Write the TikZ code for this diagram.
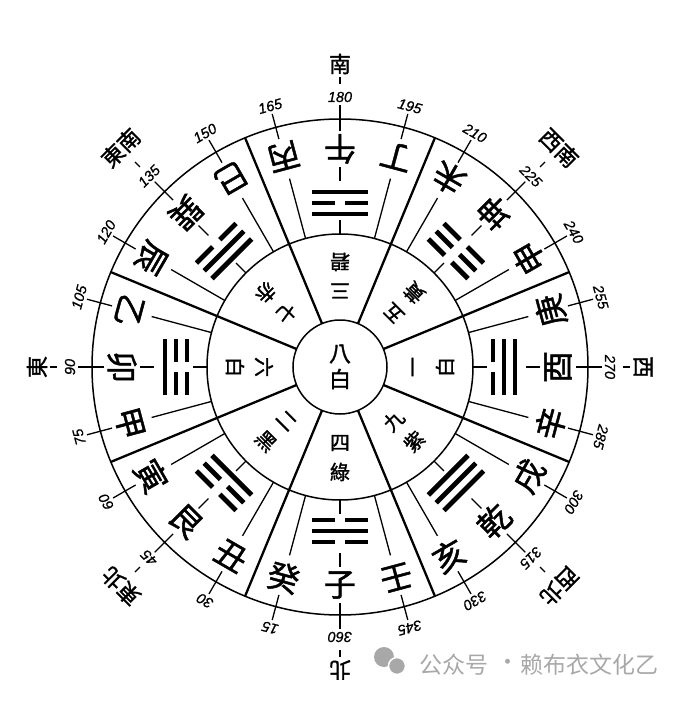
\documentclass[tikz,border=0pt]{standalone}
\usepackage{fontspec}
\newfontfamily\cjk{Noto Sans CJK TC}[FakeBold=1.4]
\newfontfamily\cjksc{Noto Sans CJK SC}
\newfontfamily\numfont{Liberation Sans}[FakeBold=0.8]
\definecolor{wmgray}{HTML}{A8A8A8}
\newcommand\yaoline[2]{%
  \ifnum#1=1 \draw[yao] (-28pt,#2) -- (28pt,#2);%
  \else \draw[yao] (-28pt,#2) -- (-5pt,#2) (5pt,#2) -- (28pt,#2);\fi}
\begin{document}
\begin{tikzpicture}[x=1pt,y=1pt,
  ring/.style={line width=1.5pt},
  sector/.style={line width=2.3pt},
  pointer/.style={line width=1.3pt},
  tickmark/.style={line width=1.3pt},
  mtn/.style={font=\cjk\fontsize{32}{32}\selectfont, inner sep=0pt},
  star/.style={font=\cjk\fontsize{20}{20}\selectfont, inner sep=0pt},
  deg/.style={font=\numfont\itshape\fontsize{14.5}{14.5}\selectfont, inner sep=0pt},
  dir/.style={font=\cjk\fontsize{22}{22}\selectfont, inner sep=0pt},
  yao/.style={line width=4.8pt},
  wm/.style={font=\cjksc\fontsize{23}{23}\selectfont, text=wmgray, inner sep=0pt}
]
\fill[white] (-340,-335) rectangle (350,367);
\useasboundingbox (-340,-335) rectangle (350,367);
\coordinate (C) at (0,0);
% circles
\draw[ring] (C) circle[radius=248pt];
\draw[ring] (C) circle[radius=133pt];
\draw[ring] (C) circle[radius=47pt];
% sector boundaries
\foreach \k in {0,...,7} {
  \pgfmathsetmacro\t{270-22.5-45*\k}
  \draw[sector] (\t:47pt) -- (\t:248pt);
}
% 24 mountains
\foreach \d/\c/\tg in {0/子/1,15/癸/0,30/丑/0,45/艮/1,60/寅/0,75/甲/0,90/卯/1,105/乙/0,
  120/辰/0,135/巽/1,150/巳/0,165/丙/0,180/午/1,195/丁/0,210/未/0,225/坤/1,240/申/0,
  255/庚/0,270/酉/1,285/辛/0,300/戌/0,315/乾/1,330/亥/0,345/壬/0} {
  \pgfmathsetmacro\t{270-\d}
  \pgfmathsetmacro\r{360-\d}
  \node[mtn, rotate=\r] (m\d) at (\t:218pt) {\c};
  \draw[tickmark] (\t:236pt) -- (\t:262pt);
  \ifnum\tg=0
    \draw[pointer] (\t:133pt) -- (\t:195pt);
  \else
    \draw[pointer] (\t:133pt) -- (\t:147pt);
    \draw[pointer] (\t:186pt) -- (\t:200pt);
  \fi
}
% trigrams: degree / bottom(outer) / middle / top(inner)
\foreach \d/\a/\b/\c in {180/1/0/1, 0/0/1/0, 90/1/0/0, 270/1/1/0,
  135/0/1/1, 45/0/0/1, 315/1/1/1, 225/0/0/0} {
  \pgfmathsetmacro\t{270-\d}
  \pgfmathsetmacro\r{360-\d}
  \begin{scope}[shift={(\t:164pt)}, rotate=\r]
    \yaoline{\a}{-11pt}
    \yaoline{\b}{0pt}
    \yaoline{\c}{11pt}
  \end{scope}
}
% degree numbers
\foreach \d in {15,30,...,360} {
  \pgfmathsetmacro\t{270-\d}
  \pgfmathsetmacro\r{180-\d}
  \node[deg, rotate=\r] (g\d) at (\t:270pt) {\d};
}
% direction labels
\foreach \d/\txt/\rr in {180/南/303,225/西南/310,270/西/303,315/西北/310,360/北/303,45/東北/310,90/東/303,135/東南/310} {
  \pgfmathsetmacro\t{270-\d}
  \pgfmathsetmacro\r{180-\d}
  \draw[line width=1.2pt] (\t:283pt) -- (\t:290pt);
  \node[dir, rotate=\r] (f\d) at (\t:\rr pt) {\txt};
}
% nine stars, middle ring
\foreach \d/\x/\y in {180/三/碧,225/五/黃,270/一/白,315/九/紫,0/四/綠,45/二/黑,90/六/白,135/七/赤} {
  \pgfmathsetmacro\t{270-\d}
  \pgfmathsetmacro\r{360-\d}
  \node[star, rotate=\r] (s\d a) at (\t:76pt) {\x};
  \node[star, rotate=\r] (s\d b) at (\t:105pt) {\y};
}
\node[star, font=\cjk\fontsize{22}{22}\selectfont] (c1) at (0,13) {八};
\node[star, font=\cjk\fontsize{22}{22}\selectfont] (c2) at (0,-12) {白};
% watermark
\fill[wmgray] (44,-290) circle[radius=10pt];
\filldraw[fill=wmgray, draw=white, line width=1.5pt] (57,-299) circle[radius=8.5pt];
\node[wm, anchor=west] (w1) at (79,-298) {公众号};
\node[wm] (w2) at (168,-298) {·};
\node[wm, anchor=west] (w3) at (180,-298) {赖布衣文化乙};
\end{tikzpicture}
\end{document}
